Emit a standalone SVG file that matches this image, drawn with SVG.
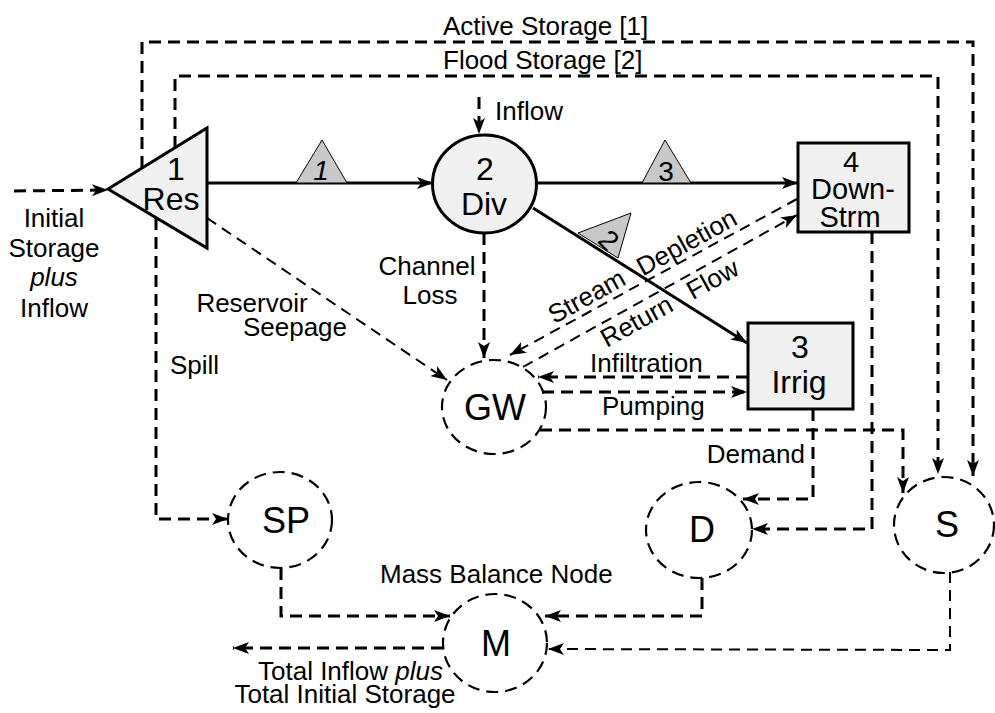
<svg xmlns="http://www.w3.org/2000/svg" width="995" height="713" viewBox="0 0 995 713">
<style>
.bg{fill:#fff}
.node{fill:#f0f0f0;stroke:#000;stroke-width:3}
.tri{fill:#c8c8c8;stroke:#000;stroke-width:1}
.vnode{fill:none;stroke:#000;stroke-width:2.2;stroke-dasharray:12 7}
.solid{fill:none;stroke:#000;stroke-width:3}
.dash{fill:none;stroke:#000;stroke-width:3;stroke-dasharray:12 7}
.tdash{fill:none;stroke:#000;stroke-width:2;stroke-dasharray:11 7}
text{font-family:"Liberation Sans",Arial,sans-serif;fill:#000}
.lbl{font-size:26px}
.nl{font-size:32px;text-anchor:middle}
.sm{font-size:29px}
.vl{font-size:36px;text-anchor:middle}
.tl{font-size:28px;text-anchor:middle}
</style>
<defs>
<marker id="ah" viewBox="0 0 16 12" markerUnits="userSpaceOnUse" markerWidth="16" markerHeight="12" refX="16" refY="6" orient="auto">
<path d="M0,0 L16,6 L0,12 L4,6 Z" fill="#000"/>
</marker>
</defs>
<rect class="bg" x="0" y="0" width="995" height="713"/>

<g id="connectors">
<path class="solid" d="M207,183 L433,183" marker-end="url(#ah)"/>
<path class="solid" d="M537,183 L798,183" marker-end="url(#ah)"/>
<path class="solid" d="M533,208 L747,343" marker-end="url(#ah)"/>
<path class="dash" d="M14,191 L108,190" marker-end="url(#ah)"/>
<path class="dash" d="M479,97 L479,134" marker-end="url(#ah)"/>
<path class="dash" d="M142,168 L142,42 L973,42 L973,476" marker-end="url(#ah)"/>
<path class="dash" d="M175,148 L175,76 L938,76 L938,474" marker-end="url(#ah)"/>
<path class="dash" d="M484,233 L484,358" marker-end="url(#ah)"/>
<path class="tdash" d="M207,218 L447,380" marker-end="url(#ah)"/>
<path class="tdash" d="M797,199 L510,355" marker-end="url(#ah)"/>
<path class="tdash" d="M523,367 L797,215" marker-end="url(#ah)"/>
<path class="dash" d="M748,377 L538,377" marker-end="url(#ah)"/>
<path class="dash" d="M542,392 L747,392" marker-end="url(#ah)"/>
<path class="dash" d="M540,430 L903,430 L903,493" marker-end="url(#ah)"/>
<path class="dash" d="M813,409 L813,499 L743,499" marker-end="url(#ah)"/>
<path class="dash" d="M872,232 L872,529 L752,529" marker-end="url(#ah)"/>
<path class="dash" d="M156,218 L156,519 L228,519" marker-end="url(#ah)"/>
<path class="dash" d="M281,568 L281,616 L450,616" marker-end="url(#ah)"/>
<path class="dash" d="M702,578 L702,616 L545,616" marker-end="url(#ah)"/>
<path class="tdash" d="M950,572 L950,650 L548,649" marker-end="url(#ah)"/>
<path class="dash" d="M443,648 L233,648" marker-end="url(#ah)"/>
</g>

<g id="link-labels">
<polygon class="tri" points="296,183 322,140 347,183"/>
<text class="tl" x="321" y="180" font-style="italic">1</text>
<polygon class="tri" points="642,183 665,140 691,183"/>
<text class="tl" x="666" y="181">3</text>
<polygon class="tri" points="578,233 631,213 618,258"/>
<text class="tl" x="0" y="0" transform="translate(609,240) rotate(45) translate(0,10)">2</text>
</g>

<g id="node-res">
<polygon class="node" points="108,189 207,128 207,248"/>
<text class="nl" x="176" y="180">1</text>
<text class="nl" x="171" y="210">Res</text>
</g>
<g id="node-div">
<ellipse class="node" cx="484.5" cy="184" rx="52" ry="49"/>
<text class="nl" x="485" y="180">2</text>
<text class="nl" x="484" y="215">Div</text>
</g>
<g id="node-downstrm">
<rect class="node" x="798" y="143" width="111" height="89"/>
<text class="nl sm" x="851" y="172">4</text>
<text class="nl sm" x="853" y="199">Down-</text>
<text class="nl sm" x="850" y="227">Strm</text>
</g>
<g id="node-irrig">
<rect class="node" x="748" y="323" width="105" height="86"/>
<text class="nl" x="800" y="358">3</text>
<text class="nl" x="799" y="393">Irrig</text>
</g>
<g id="node-gw">
<ellipse class="vnode" cx="494" cy="407" rx="52" ry="47"/>
<text class="vl" x="495" y="420">GW</text>
</g>
<g id="node-sp">
<ellipse class="vnode" cx="280" cy="520" rx="52" ry="48"/>
<text class="vl" x="286" y="533">SP</text>
</g>
<g id="node-d">
<ellipse class="vnode" cx="699" cy="530" rx="53" ry="48"/>
<text class="vl" x="702" y="542">D</text>
</g>
<g id="node-s">
<ellipse class="vnode" cx="944" cy="525" rx="50" ry="48"/>
<text class="vl" x="947" y="537">S</text>
</g>
<g id="node-m">
<ellipse class="vnode" cx="495" cy="643" rx="52" ry="49"/>
<text class="vl" x="496" y="656">M</text>
</g>

<g id="labels">
<text class="lbl" x="443" y="35">Active Storage [1]</text>
<text class="lbl" x="443" y="69">Flood Storage [2]</text>
<text class="lbl" x="495" y="120">Inflow</text>
<text class="lbl" x="54" y="227" text-anchor="middle">Initial</text>
<text class="lbl" x="54" y="257" text-anchor="middle">Storage</text>
<text class="lbl" x="54" y="286" text-anchor="middle" font-style="italic">plus</text>
<text class="lbl" x="54" y="317" text-anchor="middle">Inflow</text>
<text class="lbl" x="427" y="275" text-anchor="middle">Channel</text>
<text class="lbl" x="430" y="304" text-anchor="middle">Loss</text>
<text class="lbl" x="252" y="312" text-anchor="middle">Reservoir</text>
<text class="lbl" x="295" y="336" text-anchor="middle">Seepage</text>
<text class="lbl" x="170" y="374">Spill</text>
<text class="lbl" x="0" y="0" text-anchor="middle" transform="translate(587,297) rotate(-29) translate(0,8)">Stream</text>
<text class="lbl" x="0" y="0" text-anchor="middle" transform="translate(687,243) rotate(-29) translate(0,8)">Depletion</text>
<text class="lbl" x="0" y="0" text-anchor="middle" transform="translate(637,322) rotate(-29) translate(0,8)">Return</text>
<text class="lbl" x="0" y="0" text-anchor="middle" transform="translate(713,280) rotate(-29) translate(0,8)">Flow</text>
<text class="lbl" x="590" y="372">Infiltration</text>
<text class="lbl" x="602" y="415">Pumping</text>
<text class="lbl" x="805" y="463" text-anchor="end">Demand</text>
<text class="lbl" x="380" y="583">Mass Balance Node</text>
<text class="lbl" x="443" y="680" text-anchor="end">Total Inflow <tspan font-style="italic">plus</tspan></text>
<text class="lbl" x="345" y="703" text-anchor="middle">Total Initial Storage</text>
</g>
</svg>
